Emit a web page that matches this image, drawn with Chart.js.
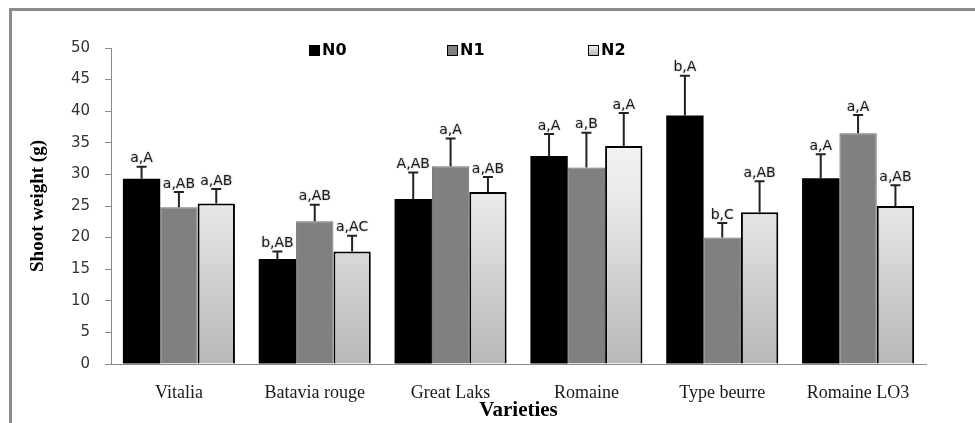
<!DOCTYPE html>
<html>
<head>
<meta charset="utf-8">
<title>Shoot weight by variety</title>
<script src="https://cdn.jsdelivr.net/npm/chart.js@4.4.1/dist/chart.umd.min.js"></script>
<style>
  html, body { margin: 0; padding: 0; background: #fff; overflow: hidden; }
  #wrap { position: relative; width: 975px; height: 423px; }
  #wrap canvas { position: absolute; left: 0; top: 0; }
  #frame {
    position: absolute; left: 9px; top: 8px; right: -10px; bottom: -10px;
    border-left: 3px solid #8c8c8c; border-top: 3px solid #8c8c8c;
    pointer-events: none;
  }
</style>
</head>
<body>
<div id="wrap">
  <canvas id="chart" width="975" height="423"></canvas>
  <div id="frame"></div>
</div>
<script>
// Shoot weight (g) per variety, three nitrogen levels, with SD and letter groups.
const VARIETIES = ['Vitalia', 'Batavia rouge', 'Great Laks', 'Romaine', 'Type beurre', 'Romaine LO3'];
const SERIES_NAMES = ['N0', 'N1', 'N2'];
const Y_TICKS = [0, 5, 10, 15, 20, 25, 30, 35, 40, 45, 50];

const N0_VALUES = [29.3, 16.6, 26.1, 32.9, 39.3, 29.4];
const N1_VALUES = [24.8, 22.6, 31.3, 31.1, 20.0, 36.5];
const N2_VALUES = [25.4, 17.8, 27.2, 34.5, 24.0, 25.0];

const N0_ERRORS = [1.9, 1.2, 4.2, 3.5, 6.3, 3.8];
const N1_ERRORS = [2.4, 2.6, 4.4, 5.5, 2.3, 2.9];
const N2_ERRORS = [2.3, 2.5, 2.4, 5.2, 4.9, 3.3];

const N0_LETTERS = ['a,A', 'b,AB', 'A,AB', 'a,A', 'b,A', 'a,A'];
const N1_LETTERS = ['a,AB', 'a,AB', 'a,A', 'a,B', 'b,C', 'a,A'];
const N2_LETTERS = ['a,AB', 'a,AC', 'a,AB', 'a,A', 'a,AB', 'a,AB'];

const AXIS_COLOR = '#8a8a8a';
const INK = '#1a1a1a';
const SERIF = '"Liberation Serif", "Times New Roman", serif';
const SANS = '"DejaVu Sans", Verdana, sans-serif';

// legend box left edges, in canvas pixels
const LEGEND_X = [309, 447, 588];
const LEGEND_Y = 50;

function lightGradient(context) {
  const { chart } = context;
  const area = chart.chartArea;
  if (!area) return '#dddddd';
  const g = chart.ctx.createLinearGradient(0, area.top, 0, area.bottom);
  g.addColorStop(0, '#ffffff');
  g.addColorStop(0.45, '#ebebeb');
  g.addColorStop(1, '#b8b8b8');
  return g;
}

const errorBarsPlugin = {
  id: 'errorBars',
  afterDatasetsDraw(chart) {
    const { ctx } = chart;
    const yScale = chart.scales.y;
    chart.data.datasets.forEach((ds, di) => {
      const meta = chart.getDatasetMeta(di);
      meta.data.forEach((bar, i) => {
        const top = yScale.getPixelForValue(ds.data[i] + ds.errors[i]);
        ctx.save();
        ctx.strokeStyle = '#222';
        ctx.lineWidth = 2;
        ctx.beginPath();
        ctx.moveTo(bar.x, bar.y);
        ctx.lineTo(bar.x, top);
        ctx.moveTo(bar.x - 5, top);
        ctx.lineTo(bar.x + 5, top);
        ctx.stroke();

        ctx.font = '14px ' + SANS;
        ctx.fillStyle = INK;
        ctx.textAlign = 'center';
        ctx.textBaseline = 'bottom';
        ctx.shadowColor = 'rgba(0,0,0,0.35)';
        ctx.shadowBlur = 2;
        ctx.fillText(ds.letters[i], bar.x, top - 1);
        ctx.restore();
      });
    });
  },
};

const legendPlugin = {
  id: 'boxLegend',
  afterDraw(chart) {
    const { ctx } = chart;
    chart.data.datasets.forEach((ds, di) => {
      const x = LEGEND_X[di];
      ctx.save();
      if (di === 2) {
        const g = ctx.createLinearGradient(0, LEGEND_Y - 5, 0, LEGEND_Y + 5);
        g.addColorStop(0, '#f4f4f4');
        g.addColorStop(1, '#b8b8b8');
        ctx.fillStyle = g;
      } else {
        ctx.fillStyle = ds.backgroundColor;
      }
      ctx.fillRect(x, LEGEND_Y - 5, 10, 10);
      ctx.strokeStyle = '#000';
      ctx.lineWidth = 1;
      ctx.strokeRect(x + 0.5, LEGEND_Y - 4.5, 10, 10);
      ctx.font = 'bold 16px ' + SANS;
      ctx.fillStyle = '#000';
      ctx.textBaseline = 'middle';
      ctx.fillText(ds.label, x + 13, LEGEND_Y + 1);
      ctx.restore();
    });
  },
};

new Chart(document.getElementById('chart'), {
  type: 'bar',
  data: {
    labels: VARIETIES,
    datasets: [
      {
        label: SERIES_NAMES[0], data: N0_VALUES, errors: N0_ERRORS, letters: N0_LETTERS,
        backgroundColor: '#000000', borderColor: '#000000', borderWidth: 0,
      },
      {
        label: SERIES_NAMES[1], data: N1_VALUES, errors: N1_ERRORS, letters: N1_LETTERS,
        backgroundColor: '#808080', borderColor: '#6c6c6c', borderWidth: 1,
      },
      {
        label: SERIES_NAMES[2], data: N2_VALUES, errors: N2_ERRORS, letters: N2_LETTERS,
        backgroundColor: lightGradient, borderColor: '#000000', borderWidth: 2,
      },
    ],
  },
  options: {
    responsive: false,
    animation: false,
    categoryPercentage: 0.825,
    barPercentage: 1.0,
    layout: { padding: { left: 0, right: 49, top: 48, bottom: 0 } },
    plugins: {
      legend: { display: false },
      tooltip: { enabled: false },
    },
    scales: {
      x: {
        grid: { display: false },
        border: { color: AXIS_COLOR, width: 1 },
        ticks: { color: INK, font: { family: SERIF, size: 18 }, padding: 10 },
        title: {
          display: true, text: 'Varieties', color: '#000',
          font: { family: SERIF, size: 21, weight: 'bold' }, padding: { top: 0, bottom: 0 },
        },
        afterFit: (scale) => { scale.height = 59; },
      },
      y: {
        min: 0,
        max: 50,
        afterBuildTicks: (scale) => { scale.ticks = Y_TICKS.map((v) => ({ value: v })); },
        grid: { drawOnChartArea: false, drawTicks: true, tickLength: 6, color: AXIS_COLOR },
        border: { color: AXIS_COLOR, width: 1 },
        ticks: { color: '#333', font: { family: SANS, size: 15 }, padding: 15 },
        title: {
          display: true, text: 'Shoot weight (g)', color: '#000',
          font: { family: SERIF, size: 19, weight: 'bold' }, padding: { top: 27, bottom: 0 },
        },
        afterFit: (scale) => { scale.width = 111; },
      },
    },
  },
  plugins: [errorBarsPlugin, legendPlugin],
});
</script>
</body>
</html>
